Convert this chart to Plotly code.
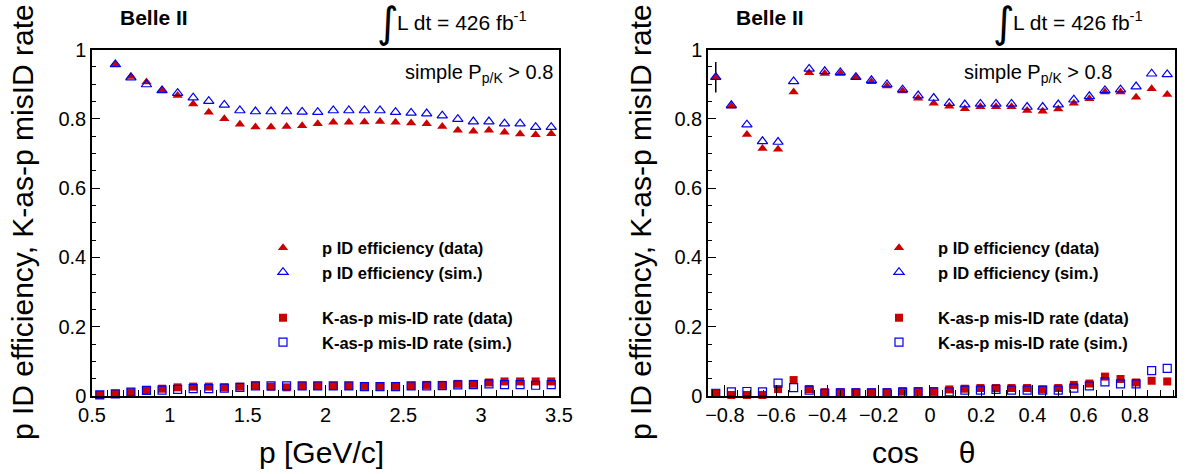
import numpy as np
import plotly.graph_objects as go

# ---- binning -------------------------------------------------------------
p_edges = np.linspace(0.5, 3.5, 31)
p_centers = 0.5 * (p_edges[:-1] + p_edges[1:])
cos_edges = np.linspace(-0.866, 0.956, 31)
cos_centers = 0.5 * (cos_edges[:-1] + cos_edges[1:])

nan = float("nan")

# ---- momentum dependence -------------------------------------------------
eff_data_p = [nan, 0.957, 0.922, 0.906, 0.882, 0.867, 0.843, 0.819, 0.800, 0.784,
              0.776, 0.776, 0.778, 0.780, 0.786, 0.790, 0.790, 0.791, 0.792, 0.790,
              0.788, 0.786, 0.778, 0.767, 0.764, 0.767, 0.761, 0.756, 0.754, 0.757]
eff_sim_p = [nan, 0.957, 0.919, 0.899, 0.882, 0.874, 0.861, 0.851, 0.840, 0.824,
             0.821, 0.821, 0.821, 0.820, 0.819, 0.824, 0.824, 0.824, 0.824, 0.819,
             0.817, 0.815, 0.809, 0.799, 0.792, 0.792, 0.786, 0.786, 0.776, 0.776]
mis_data_p = [0.003, 0.006, 0.011, 0.017, 0.021, 0.025, 0.027, 0.027, 0.025, 0.027,
              0.030, 0.027, 0.025, 0.029, 0.029, 0.029, 0.029, 0.029, 0.027, 0.029,
              0.029, 0.032, 0.032, 0.035, 0.035, 0.039, 0.042, 0.042, 0.042, 0.042]
mis_sim_p = [0.003, 0.006, 0.011, 0.016, 0.017, 0.019, 0.021, 0.021, 0.023, 0.025,
             0.029, 0.029, 0.029, 0.029, 0.029, 0.029, 0.029, 0.027, 0.027, 0.027,
             0.029, 0.029, 0.030, 0.032, 0.033, 0.035, 0.033, 0.033, 0.031, 0.033]

# ---- polar-angle dependence ----------------------------------------------
eff_data_c = [0.920, 0.836, 0.755, 0.714, 0.712, 0.877, 0.933, 0.931, 0.931, 0.919,
              0.907, 0.895, 0.880, 0.859, 0.845, 0.836, 0.829, 0.835, 0.835, 0.835,
              0.824, 0.822, 0.828, 0.845, 0.858, 0.877, 0.877, 0.862, 0.887, 0.870]
eff_data_c_err = [0.044] + [0.0] * 29
eff_sim_c = [0.920, 0.839, 0.783, 0.735, 0.733, 0.908, 0.944, 0.937, 0.934, 0.920,
             0.911, 0.899, 0.884, 0.867, 0.860, 0.845, 0.841, 0.843, 0.843, 0.843,
             0.834, 0.834, 0.841, 0.855, 0.865, 0.882, 0.884, 0.893, 0.930, 0.928]
mis_data_c = [0.008, 0.003, 0.003, 0.003, 0.020, 0.046, 0.020, 0.011, 0.011, 0.011,
              0.011, 0.011, 0.014, 0.014, 0.014, 0.019, 0.021, 0.023, 0.023, 0.023,
              0.023, 0.019, 0.023, 0.032, 0.036, 0.056, 0.049, 0.039, 0.044, 0.042]
mis_sim_c = [0.008, 0.012, 0.013, 0.012, 0.037, 0.024, 0.017, 0.008, 0.009, 0.009,
             0.009, 0.009, 0.011, 0.012, 0.012, 0.012, 0.017, 0.017, 0.019, 0.017,
             0.017, 0.017, 0.017, 0.023, 0.029, 0.041, 0.035, 0.035, 0.073, 0.080]

labels = ["p ID efficiency (data)", "p ID efficiency (sim.)",
          "K-as-p mis-ID rate (data)", "K-as-p mis-ID rate (sim.)"]

RED = "#cc0000"
BLUE = "#0000ee"
FONT = "Liberation Sans, Arial, Helvetica, sans-serif"
W, H = 1187, 474


def px_x(v):
    return v / W


def px_y(v):
    return 1 - v / H


fig = go.Figure()


def add_panel(x, eff_d, eff_s, mis_d, mis_s, xa, ya, legend, err=None):
    styles = [
        (eff_d, dict(symbol="triangle-up", size=9, color=RED, line=dict(width=0)), "eff"),
        (eff_s, dict(symbol="triangle-up-open", size=9, color=BLUE, line=dict(width=1.2, color=BLUE)), "eff"),
        (mis_d, dict(symbol="square", size=8, color=RED, line=dict(width=0)), "mis"),
        (mis_s, dict(symbol="square-open", size=8, color=BLUE, line=dict(width=1.2, color=BLUE)), "mis"),
    ]
    for i, (vals, marker, grp) in enumerate(styles):
        kw = {}
        if i == 0 and err is not None:
            kw["error_y"] = dict(type="data", array=err, color="black",
                                 thickness=1.5, width=0)
        fig.add_trace(go.Scatter(
            x=x, y=vals, mode="markers", marker=marker, name=labels[i],
            xaxis=xa, yaxis=ya, legend=legend, legendgroup=grp,
            cliponaxis=False, **kw))


add_panel(p_centers, eff_data_p, eff_sim_p, mis_data_p, mis_sim_p, "x", "y", "legend")
add_panel(cos_centers, eff_data_c, eff_sim_c, mis_data_c, mis_sim_c, "x2", "y2", "legend2",
          err=eff_data_c_err)

tickfont = dict(family=FONT, size=20, color="black")
ydom = [px_y(396), px_y(49.5)]
common_axis = dict(showline=True, linecolor="black", linewidth=1.5, mirror=True,
                   showgrid=False, zeroline=False, ticks="inside", tickcolor="black",
                   tickwidth=1, tickfont=tickfont, automargin=False)

fig.update_layout(
    width=W, height=H, autosize=False,
    margin=dict(l=0, r=0, t=0, b=0, pad=0, autoexpand=False),
    paper_bgcolor="white", plot_bgcolor="white",
    font=dict(family=FONT, color="black"),
    xaxis=dict(domain=[px_x(92), px_x(559)], range=[0.5, 3.5], tick0=0.5, dtick=0.5,
               ticklen=11, anchor="y",
               minor=dict(ticks="inside", dtick=0.1, ticklen=6, tickcolor="black", showgrid=False),
               **common_axis),
    yaxis=dict(domain=ydom, range=[0, 1], dtick=0.2, ticklen=8, anchor="x",
               minor=dict(ticks="inside", dtick=0.05, ticklen=4, tickcolor="black", showgrid=False),
               **common_axis),
    xaxis2=dict(domain=[px_x(708), px_x(1175)], range=[-0.866, 0.956], tick0=0, dtick=0.2,
                ticklen=11, anchor="y2",
                minor=dict(ticks="inside", dtick=0.05, ticklen=6, tickcolor="black", showgrid=False),
                **common_axis),
    yaxis2=dict(domain=ydom, range=[0, 1], dtick=0.2, ticklen=8, anchor="x2",
                minor=dict(ticks="inside", dtick=0.05, ticklen=4, tickcolor="black", showgrid=False),
                **common_axis),
)

legend_style = dict(bgcolor="rgba(0,0,0,0)", borderwidth=0, traceorder="grouped",
                    tracegroupgap=21, itemwidth=68, yanchor="top", xanchor="left",
                    font=dict(family=FONT, size=16.5, color="black", weight="bold"))
fig.update_layout(
    legend=dict(x=px_x(244), y=px_y(230.5), **legend_style),
    legend2=dict(x=px_x(860), y=px_y(230.5), **legend_style),
)

annotations = []
for off in (0, 616):
    annotations += [
        dict(text="<b>Belle II</b>", x=px_x(118 + off), y=px_y(17), xanchor="left",
             yanchor="middle", font=dict(size=21)),
        dict(text="\u222b", x=px_x(388 + off), y=px_y(23), xanchor="center",
             yanchor="middle", font=dict(size=42, family="DejaVu Sans")),
        dict(text="L dt = 426 fb<sup>-1</sup>", x=px_x(395 + off), y=px_y(21),
             xanchor="left", yanchor="middle", font=dict(size=21)),
    ]
annotations += [
    dict(text="simple P<sub>p/K</sub> > 0.8", x=px_x(555), y=px_y(73), xanchor="right",
         yanchor="middle", font=dict(size=20)),
    dict(text="simple P<sub>p/K</sub> > 0.8", x=px_x(1114), y=px_y(73), xanchor="right",
         yanchor="middle", font=dict(size=20)),
    dict(text="p ID efficiency, K-as-p misID rate", x=px_x(22), y=px_y(222),
         textangle=-90, xanchor="center", yanchor="middle", font=dict(size=30)),
    dict(text="p ID efficiency, K-as-p misID rate", x=px_x(640), y=px_y(222),
         textangle=-90, xanchor="center", yanchor="middle", font=dict(size=30)),
    dict(text="p [GeV/c]", x=px_x(321), y=px_y(452), xanchor="center",
         yanchor="middle", font=dict(size=30)),
    dict(text="cos\u2003\u2004\u03b8", x=px_x(923), y=px_y(452), xanchor="center",
         yanchor="middle", font=dict(size=30)),
]
for a in annotations:
    a.update(xref="paper", yref="paper", showarrow=False)
    a.setdefault("font", {})
    a["font"].setdefault("color", "black")
    a["font"].setdefault("family", FONT)
fig.update_layout(annotations=annotations)

fig.write_html("out.html")
